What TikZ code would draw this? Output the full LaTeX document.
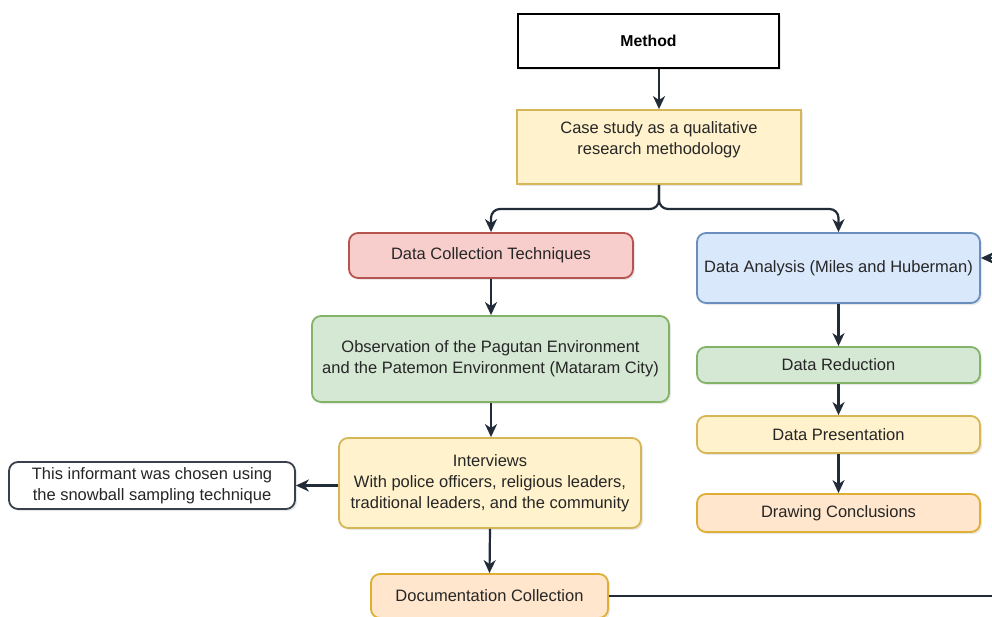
\documentclass[tikz,border=0pt]{standalone}
\usepackage{fontspec}
\setmainfont{Liberation Sans}
\usetikzlibrary{arrows.meta,shadows,positioning}
\definecolor{lineC}{HTML}{222B38}
\definecolor{yelF}{HTML}{FFF2CC}\definecolor{yelD}{HTML}{D6B656}
\definecolor{redF}{HTML}{F8CECC}\definecolor{redD}{HTML}{B85450}
\definecolor{bluF}{HTML}{DAE8FC}\definecolor{bluD}{HTML}{6C8EBF}
\definecolor{grnF}{HTML}{D5E8D4}\definecolor{grnD}{HTML}{82B366}
\definecolor{orgF}{HTML}{FFE6CC}\definecolor{orgD}{HTML}{D79B00}
\tikzset{
  x=1pt,y=-1pt,
  boxbase/.style={draw, line width=1.8pt, align=center, inner sep=0pt,
     font=\fontsize{16.5}{21}\selectfont, text=black!85,
     drop shadow={opacity=0.18, shadow xshift=2pt, shadow yshift=-2pt}},
  rbox/.style={boxbase, rounded corners=9pt},
  conn/.style={draw=lineC, line width=2.2pt, -{Stealth[length=13pt,width=12pt,inset=4pt]}},
  plain/.style={draw=lineC, line width=2.2pt},
}
\begin{document}
\begin{tikzpicture}
\useasboundingbox (0,0) rectangle (992,617);
% Method
\node[boxbase, fill=white, draw=black, line width=2.2pt, minimum width=261pt, minimum height=54pt,
      font=\bfseries\fontsize{15.8}{19}\selectfont, text=black] (method) at (648.5,41) {Method};
% Case study
\node[boxbase, fill=yelF, draw=yelD, minimum width=284pt, minimum height=74pt] (case) at (659,147) {};
\node[align=center, font=\fontsize{16.5}{21}\selectfont, text=black!85, inner sep=0pt] (casetxt) at (659,140)
  {Case study as a qualitative\\research methodology};
% Data collection
\node[rbox, fill=redF, draw=redD, minimum width=284pt, minimum height=45pt] (dc) at (491,255.5) {Data Collection Techniques};
% Data analysis
\node[rbox, fill=bluF, draw=bluD, minimum width=283pt, minimum height=70pt] (da) at (838.5,268) {\raisebox{-3pt}{Data Analysis (Miles and Huberman)}};
% Observation
\node[rbox, fill=grnF, draw=grnD, minimum width=357pt, minimum height=86pt] (obs) at (490.5,359)
  {Observation of the Pagutan Environment\\and the Patemon Environment (Mataram City)};
% Interviews
\node[rbox, fill=yelF, draw=yelD, minimum width=302pt, minimum height=90pt] (intv) at (490,483)
  {Interviews\\With police officers, religious leaders,\\traditional leaders, and the community};
% Informant
\node[rbox, fill=white, draw=lineC!90, minimum width=286pt, minimum height=47pt] (inf) at (152,485.5)
  {This informant was chosen using\\the snowball sampling technique};
% Documentation
\node[rbox, fill=orgF, draw=orgD!80, minimum width=237pt, minimum height=44pt] (doc) at (489.5,596) {Documentation Collection};
% Right column
\node[rbox, fill=grnF, draw=grnD, minimum width=283pt, minimum height=36pt] (dr) at (838.5,365) {Data Reduction};
\node[rbox, fill=yelF, draw=yelD, minimum width=283pt, minimum height=37pt] (dp) at (838.5,434.5) {Data Presentation};
\node[rbox, fill=orgF, draw=orgD!80, minimum width=283pt, minimum height=38pt] (dcon) at (838.5,513) {Drawing Conclusions};

\coordinate (fork) at (659,209);
\coordinate (edgeA) at (993,258);
\coordinate (edgeB) at (993,596);

% Connectors
\draw[conn] (case.north |- method.south) -- (case.north);
\draw[conn, rounded corners=9pt] (case.south) -- (fork) -| (dc.north);
\draw[conn, rounded corners=9pt] (case.south) -- (fork) -| (da.north);
\draw[conn] (dc.south) -- (obs.north -| dc.south);
\draw[conn] (obs.south -| dc.south) -- (intv.north -| dc.south);
\draw[conn] (intv.west |- inf.east) -- (inf.east);
\draw[conn] (intv.south) -- (doc.north);
\draw[plain] (doc.east) -- (edgeB);
\draw[conn] (edgeA) -- (da.east |- edgeA);
\draw[conn] (da.south) -- (dr.north);
\draw[conn] (dr.south) -- (dp.north);
\draw[conn] (dp.south) -- (dcon.north);
\end{tikzpicture}
\end{document}
